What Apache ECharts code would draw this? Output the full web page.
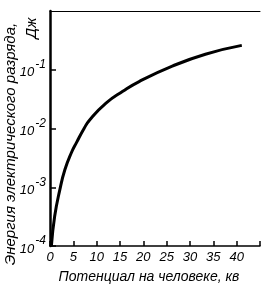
<!DOCTYPE html>
<html>
<head>
<meta charset="utf-8">
<script src="https://cdn.jsdelivr.net/npm/echarts@6/dist/echarts.min.js"></script>
<style>
html, body { margin: 0; padding: 0; background: #fff; }
#chart { width: 263px; height: 289px; }
</style>
</head>
<body>
<div id="chart"></div>
<script>
// данные кривой
var potential = [0.3, 1.0, 2.1, 3.2, 4.6, 5.7, 7.3, 8.5, 12, 15.6, 19.1, 26.2, 33.3, 41.1];
var energy = [1e-4, 3.2e-4, 9e-4, 2e-3, 3.9e-3, 5.8e-3, 0.01, 0.014, 0.027, 0.043, 0.063, 0.115, 0.184, 0.26];
var xTicks = ['0', '5', '10', '15', '20', '25', '30', '35', '40'];
var yTicks = ['-4', '-3', '-2', '-1'];

var points = potential.map(function (v, i) { return [v, energy[i]]; });
var font = 'Liberation Sans';

var myChart = echarts.init(document.getElementById('chart'));
var option = {
    backgroundColor: '#fff',
    animation: false,
    grid: { left: 50, top: 11, right: 1, bottom: 43 },
    xAxis: [{
        type: 'value',
        min: 0,
        max: 45,
        interval: 5,
        name: 'Потенциал на человеке, кв',
        nameLocation: 'middle',
        nameGap: 24,
        nameTextStyle: { color: '#000', fontStyle: 'italic', fontFamily: font, fontSize: 14, padding: [0, 12, 0, 0] },
        axisLine: { lineStyle: { color: '#000', width: 1.5 } },
        axisTick: { inside: true, length: 5, lineStyle: { color: '#000', width: 1.5 } },
        splitLine: { show: false },
        axisLabel: {
            color: '#000', fontStyle: 'italic', fontFamily: font, fontSize: 13, margin: 5,
            formatter: function (v) { return xTicks.indexOf(String(v)) >= 0 ? String(v) : ''; }
        }
    }, {
        type: 'value',
        position: 'top',
        min: 0,
        max: 45,
        axisLine: { show: true, lineStyle: { color: '#000', width: 1 } },
        axisTick: { show: false },
        axisLabel: { show: false },
        splitLine: { show: false }
    }],
    yAxis: {
        type: 'log',
        logBase: 10,
        min: 1e-4,
        max: 1,
        axisLine: { show: true, lineStyle: { color: '#000', width: 2.5 } },
        axisTick: { inside: true, length: 6, lineStyle: { color: '#000', width: 1.5 } },
        minorTick: { show: false },
        splitLine: { show: false },
        axisLabel: {
            margin: 4,
            showMaxLabel: false,
            formatter: function (v) {
                var e = Math.round(Math.log10(v));
                var s = String(e);
                if (yTicks.indexOf(s) < 0) return '';
                return '{b|10}{s|' + s + '}';
            },
            rich: {
                b: { color: '#000', fontStyle: 'italic', fontFamily: font, fontSize: 13, padding: [6, 0, 0, 0] },
                s: { color: '#000', fontStyle: 'italic', fontFamily: font, fontSize: 12, padding: [0, 0, 10, 1] }
            }
        }
    },
    graphic: [{
        type: 'text',
        x: 11,
        y: 144,
        rotation: Math.PI / 2,
        style: {
            text: 'Энергия электрического разряда,',
            fill: '#000',
            font: 'italic 15px "Liberation Sans"',
            textAlign: 'center',
            textVerticalAlign: 'middle'
        }
    }, {
        type: 'text',
        x: 32,
        y: 28,
        rotation: Math.PI / 2,
        style: {
            text: 'Дж',
            fill: '#000',
            font: 'italic 15px "Liberation Sans"',
            textAlign: 'center',
            textVerticalAlign: 'middle'
        }
    }],
    series: [{
        type: 'line',
        data: points,
        smooth: true,
        showSymbol: false,
        lineStyle: { color: '#000', width: 3 }
    }]
};
myChart.setOption(option);
</script>
</body>
</html>
